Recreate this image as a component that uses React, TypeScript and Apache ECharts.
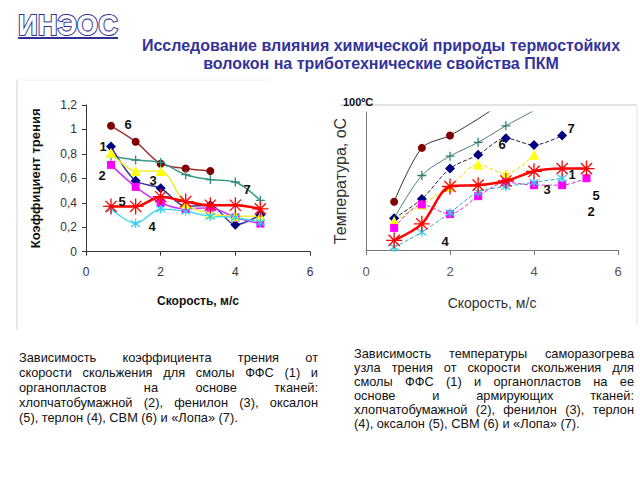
import React, { useEffect, useRef } from "react";
import * as echarts from "echarts";

// ---- data: left chart (friction coefficient vs speed) ----
const speedL = [0.67, 1.33, 2, 2.67, 3.33, 4, 4.67];
const fric1 = [0.86, 0.58, 0.52, 0.37, 0.38, 0.22, 0.3];
const fric2 = [0.71, 0.53, 0.4, 0.35, 0.36, 0.28, 0.23];
const fric3 = [0.81, 0.66, 0.66, 0.39, 0.31, 0.29, 0.29];
const fric4 = [0.35, 0.23, 0.35, 0.33, 0.29, 0.28, 0.24];
const fric5 = [0.37, 0.37, 0.45, 0.41, 0.38, 0.38, 0.35];
const fric6 = [1.03, 0.9, 0.72, 0.68, 0.66];
const fric7 = [0.78, 0.75, 0.73, 0.63, 0.59, 0.57, 0.42];

// ---- data: right chart (temperature vs speed, % of 100 °C) ----
const speedR = [0.67, 1.33, 2, 2.67, 3.33, 4, 4.67, 5.25];
const tempRed = [7, 19, 46, 47, 50, 57, 59, 59];
const tempMagenta = [16, 33, 26, 39, 49, 47, 47, 52];
const tempYellow = [21, 33, 46, 62, 55, 69];
const tempCyan = [2, 13, 27, 42, 46, 49, 52];
const tempDarkRed = [35, 74, 83, 95, 108, 118];
const tempTeal = [23, 54, 68, 78, 90, 101];
const tempNavy = [23, 37, 59, 69, 81, 76, 83];

const labelsL = ["6", "1", "2", "3", "5", "4", "7"];
const labelsR = ["7", "6", "1", "3", "5", "2", "4"];

const titleLines = [
  "Исследование влияния химической природы термостойких",
  "волокон на триботехнические свойства ПКМ",
];
const paraLeft = [
  "Зависимость коэффициента трения от",
  "скорости скольжения для смолы ФФС (1) и",
  "органопластов на основе тканей:",
  "хлопчатобумажной (2), фенилон (3), оксалон",
  "(5), терлон (4), СВМ (6) и «Лопа» (7).",
];
const paraRight = [
  "Зависимость температуры саморазогрева",
  "узла трения от скорости скольжения для",
  "смолы ФФС (1)  и органопластов на ее",
  "основе и армирующих тканей:",
  "хлопчатобумажной (2), фенилон (3), терлон",
  "(4), оксалон (5), СВМ (6) и «Лопа» (7).",
];

const FONT = '"Liberation Sans", Arial, sans-serif';
const STAR8 = "path://M0,5L10,5M5,0L5,10M1.5,1.5L8.5,8.5M8.5,1.5L1.5,8.5";
const STAR6 = "path://M5,0L5,10M1.5,1.5L8.5,8.5M8.5,1.5L1.5,8.5";
const PLUS = "path://M0,5L10,5M5,0L5,10";

function pairs(xs: number[], ys: number[]) {
  return ys.map((v, i) => [xs[i], v]);
}

let measureCtx: CanvasRenderingContext2D | null = null;
function measure(text: string, font: string) {
  if (!measureCtx) measureCtx = document.createElement("canvas").getContext("2d");
  measureCtx!.font = font;
  return measureCtx!.measureText(text).width;
}

function txt(text: string, x: number, y: number, opts: any = {}) {
  const align = opts.align || "left";
  return {
    type: "text",
    x,
    y,
    silent: true,
    z: 10,
    style: {
      text,
      fill: opts.fill || "#111",
      fontSize: opts.fontSize || 12,
      fontWeight: opts.fontWeight || "normal",
      fontFamily: opts.fontFamily || FONT,
      align,
      textAlign: align,
      verticalAlign: "middle",
      textVerticalAlign: "middle",
    },
  };
}

function paragraph(lines: string[], x: number, y0: number, width: number, lh: number, fontSize: number) {
  const els: any[] = [];
  const font = `${fontSize}px ${FONT}`;
  lines.forEach((line, i) => {
    const y = y0 + i * lh;
    if (i === lines.length - 1) {
      els.push(txt(line, x, y, { fontSize }));
      return;
    }
    const words = line.split(/\s+/);
    const ws = words.map((w) => measure(w, font));
    const sum = ws.reduce((a, b) => a + b, 0);
    const gap = words.length > 1 ? (width - sum) / (words.length - 1) : 0;
    let cx = x;
    words.forEach((w, j) => {
      els.push(txt(w, cx, y, { fontSize }));
      cx += ws[j] + gap;
    });
  });
  return els;
}

function lineSeries(idx: number, data: any[], o: any) {
  const stroke = !!o.stroke;
  return {
    type: "line",
    xAxisIndex: idx,
    yAxisIndex: idx,
    data,
    smooth: o.smooth ?? 0.3,
    symbol: o.symbol,
    symbolSize: o.size,
    showAllSymbol: true,
    clip: true,
    lineStyle: { color: o.line || o.color, width: o.width || 1.5, type: o.dash || "solid" },
    itemStyle: stroke
      ? { color: "rgba(0,0,0,0)", borderColor: o.color, borderWidth: o.bw || 1.3 }
      : { color: o.color, borderColor: o.color, borderWidth: 0 },
    z: o.z || 2,
  };
}

export default function App() {
  const ref = useRef<HTMLDivElement>(null);
  useEffect(() => {
    if (!ref.current) return;
    const chart = echarts.init(ref.current, null, { renderer: "svg" });

    const logoFont = `bold 34px ${FONT}`;
    const logoW = measure("ИНЭОС", logoFont);
    const titleColor = "#333399";

    const graphic: any[] = [
      // frames
      { type: "line", shape: { x1: 17, y1: 80, x2: 17, y2: 330 }, style: { stroke: "#cfcfcf", lineWidth: 1 }, silent: true },
      { type: "line", shape: { x1: 17, y1: 80, x2: 270, y2: 80 }, style: { stroke: "#f0f0f0", lineWidth: 1 }, silent: true },
      { type: "line", shape: { x1: 340, y1: 105, x2: 637, y2: 105 }, style: { stroke: "#c8c8c8", lineWidth: 1.2 }, silent: true },
      { type: "line", shape: { x1: 637, y1: 105, x2: 637, y2: 325 }, style: { stroke: "#e2e2e2", lineWidth: 1 }, silent: true },
      // logo
      {
        type: "text",
        x: 18,
        y: 25,
        scaleX: 100 / logoW,
        scaleY: 0.85,
        silent: true,
        style: {
          text: "ИНЭОС",
          font: logoFont,
          fill: "#ffffff",
          stroke: "#2E3192",
          lineWidth: 2.4,
          verticalAlign: "middle",
          textVerticalAlign: "middle",
        },
      },
      { type: "line", shape: { x1: 18, y1: 38, x2: 118, y2: 38 }, style: { stroke: "#2E3192", lineWidth: 2 }, silent: true },
      // title
      txt(titleLines[0], 381, 45, { align: "center", fontSize: 16, fontWeight: "bold", fill: titleColor }),
      txt(titleLines[1], 381, 63, { align: "center", fontSize: 16, fontWeight: "bold", fill: titleColor }),
      // left labels
      txt(labelsL[0], 128, 124, { fontSize: 13, fontWeight: "bold", align: "center" }),
      txt(labelsL[1], 103, 146, { fontSize: 13, fontWeight: "bold", align: "center" }),
      txt(labelsL[2], 102, 175, { fontSize: 13, fontWeight: "bold", align: "center" }),
      txt(labelsL[3], 153, 180, { fontSize: 13, fontWeight: "bold", align: "center" }),
      txt(labelsL[4], 122, 201, { fontSize: 13, fontWeight: "bold", align: "center" }),
      txt(labelsL[5], 152, 226, { fontSize: 13, fontWeight: "bold", align: "center" }),
      txt(labelsL[6], 247, 189, { fontSize: 13, fontWeight: "bold", align: "center" }),
      // right labels
      txt("100ºC", 343, 102, { fontSize: 11, fontWeight: "bold" }),
      txt(labelsR[0], 571, 128, { fontSize: 13, fontWeight: "bold", align: "center" }),
      txt(labelsR[1], 502, 144, { fontSize: 13, fontWeight: "bold", align: "center" }),
      txt(labelsR[2], 572, 174, { fontSize: 13, fontWeight: "bold", align: "center" }),
      txt(labelsR[3], 547, 189, { fontSize: 13, fontWeight: "bold", align: "center" }),
      txt(labelsR[4], 596, 195, { fontSize: 13, fontWeight: "bold", align: "center" }),
      txt(labelsR[5], 591, 211, { fontSize: 13, fontWeight: "bold", align: "center" }),
      txt(labelsR[6], 445, 241, { fontSize: 13, fontWeight: "bold", align: "center" }),
      ...paragraph(paraLeft, 19, 357, 299, 15.2, 12.8),
      ...paragraph(paraRight, 354, 353, 280, 14, 12.8),
    ];

    const hideSym = (arr: number[][], from: number) =>
      arr.map((p, i) => (i >= from ? { value: p, symbol: "none" } : p));

    const option: any = {
      animation: false,
      backgroundColor: "#ffffff",
      textStyle: { fontFamily: FONT },
      grid: [
        { left: 86, top: 105, width: 224, height: 146.7 },
        { left: 366, top: 112, width: 252, height: 138 },
      ],
      xAxis: [
        {
          gridIndex: 0,
          type: "value",
          min: 0,
          max: 6,
          interval: 2,
          splitLine: { show: false },
          axisLine: { lineStyle: { color: "#333", width: 1 } },
          axisTick: { show: true, length: 4, lineStyle: { color: "#333" } },
          axisLabel: { color: "#333", fontSize: 12, margin: 14 },
          name: "Скорость, м/с",
          nameLocation: "middle",
          nameGap: 43,
          nameTextStyle: { color: "#111", fontSize: 12, fontWeight: "bold" },
        },
        {
          gridIndex: 1,
          type: "value",
          min: 0,
          max: 6,
          interval: 2,
          splitLine: { show: false },
          axisLine: { lineStyle: { color: "#777", width: 1 } },
          axisTick: { show: true, length: 5, lineStyle: { color: "#777" } },
          axisLabel: { color: "#555", fontSize: 13, margin: 15 },
          name: "Скорость, м/с",
          nameLocation: "middle",
          nameGap: 46,
          nameTextStyle: { color: "#333", fontSize: 14 },
        },
      ],
      yAxis: [
        {
          gridIndex: 0,
          type: "value",
          min: 0,
          max: 1.2,
          interval: 0.2,
          splitLine: { show: false },
          axisLine: { show: true, lineStyle: { color: "#333", width: 1 } },
          axisTick: { show: true, length: 4, lineStyle: { color: "#333" } },
          axisLabel: {
            color: "#333",
            fontSize: 12,
            margin: 9,
            formatter: (v: number) => String(Number(v.toFixed(1))).replace(".", ","),
          },
          name: "Коэффициент трения",
          nameLocation: "middle",
          nameGap: 44,
          nameTextStyle: { color: "#111", fontSize: 13, fontWeight: "bold" },
        },
        {
          gridIndex: 1,
          type: "value",
          min: 0,
          max: 100,
          splitLine: { show: false },
          axisLine: { show: true, lineStyle: { color: "#777", width: 1 } },
          axisTick: { show: false },
          axisLabel: { show: false },
          name: "Температура, оС",
          nameLocation: "middle",
          nameGap: 18,
          nameTextStyle: { color: "#333", fontSize: 16 },
        },
      ],
      series: [
        // left
        lineSeries(0, pairs(speedL, fric6), { color: "#800000", line: "#993333", symbol: "circle", size: 8 }),
        lineSeries(0, pairs(speedL, fric7), { color: "#2F8F7F", line: "#3A9A8A", symbol: PLUS, size: 9, stroke: true }),
        lineSeries(0, pairs(speedL, fric1), { color: "#000080", line: "#333399", symbol: "diamond", size: 10 }),
        lineSeries(0, pairs(speedL, fric2), { color: "#FF00FF", line: "#CC33FF", symbol: "rect", size: 8 }),
        lineSeries(0, pairs(speedL, fric3), { color: "#FFFF00", line: "#EEEE33", symbol: "triangle", size: 10 }),
        lineSeries(0, pairs(speedL, fric4), { color: "#33CCEE", line: "#44DDEE", symbol: STAR6, size: 9, stroke: true }),
        lineSeries(0, pairs(speedL, fric5), { color: "#FF0000", line: "#FF0000", symbol: STAR8, size: 16, stroke: true, width: 2.5, z: 3 }),
        // right
        lineSeries(1, hideSym(pairs(speedR, tempDarkRed), 3), { color: "#800000", line: "#333333", symbol: "circle", size: 8, width: 1 }),
        lineSeries(1, hideSym(pairs(speedR, tempTeal), 5), { color: "#2F7F6F", line: "#4A7F77", symbol: PLUS, size: 9, stroke: true, width: 1 }),
        lineSeries(1, pairs(speedR, tempNavy), { color: "#000080", line: "#222244", symbol: "diamond", size: 10, width: 1, dash: "dashed" }),
        lineSeries(1, pairs(speedR, tempYellow), { color: "#FFFF00", line: "#E0E000", symbol: "triangle", size: 10, width: 1, dash: "dashed" }),
        lineSeries(1, pairs(speedR, tempMagenta), { color: "#FF00FF", line: "#CC33CC", symbol: "rect", size: 8, width: 1, dash: "dashed" }),
        lineSeries(1, pairs(speedR, tempCyan), { color: "#33CCEE", line: "#33AACC", symbol: STAR6, size: 9, stroke: true, width: 1, dash: "dashed" }),
        lineSeries(1, pairs(speedR, tempRed), { color: "#FF0000", line: "#FF0000", symbol: STAR8, size: 16, stroke: true, width: 2.5, z: 3 }),
      ],
      graphic,
    };
    chart.setOption(option);
    return () => chart.dispose();
  }, []);
  return (
    <div
      ref={ref}
      style={{ position: "fixed", left: 0, top: 0, width: 640, height: 480, background: "#fff" }}
    />
  );
}
